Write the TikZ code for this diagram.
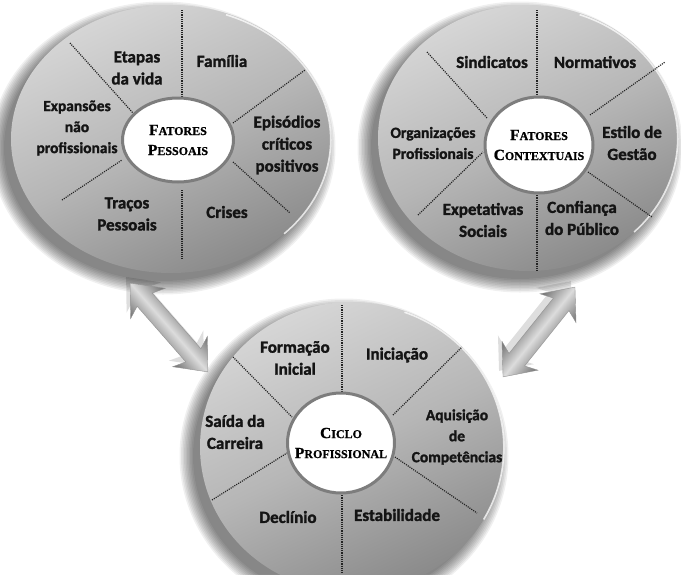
\documentclass[tikz,border=0pt]{standalone}
\usepackage{fontspec}
\setmainfont{Carlito}
\newfontfamily\cbold{Carlito Bold}[FakeBold=1.6]
\newfontfamily\capserif{Liberation Serif Bold}[FakeBold=0.8]
\usetikzlibrary{shapes.geometric}
\definecolor{disclight}{RGB}{214,214,214}
\definecolor{discmid}{RGB}{182,182,182}
\definecolor{discdark}{RGB}{138,138,138}
\definecolor{dotline}{RGB}{35,35,35}
\definecolor{ringgray}{RGB}{125,125,125}
\definecolor{arrdark}{RGB}{110,110,110}
\definecolor{arrlight}{RGB}{220,220,220}
\newcommand\fsc[2]{{\fontsize{15.5}{20}\selectfont #1}{\fontsize{12}{20}\selectfont #2}}
\tikzset{
  disc/.style={ellipse, inner sep=0pt, top color=disclight, bottom color=discdark, middle color=discmid, shading angle=25},
  discshadow/.style={ellipse, inner sep=0pt, fill=black, fill opacity=0.06, draw=none},
  rim/.style={white, line width=1.6pt, opacity=0.75},
  inner/.style={ellipse, inner sep=0pt, fill=white, draw=ringgray, line width=3pt},
  divider/.style={dotline, line width=1.2pt, dash pattern=on 1.1pt off 1.1pt},
  lbl/.style={font=\cbold\fontsize{17}{22}\selectfont, align=center, inner sep=0pt, text=black!92},
  lbls/.style={font=\cbold\fontsize{15.5}{21}\selectfont, align=center, inner sep=0pt, text=black!92},
  ctr/.style={font=\capserif\fontsize{12}{20}\selectfont, align=center, inner sep=0pt},
  arrbody/.style={top color=arrdark, bottom color=arrdark, middle color=arrlight, draw=gray!85, line width=0.4pt},
  arrshadow/.style={fill=black, fill opacity=0.13, draw=none}
}
% double arrow polygon in local frame: #1 = half length
\newcommand\dblarrowpath[1]{(#1,0) -- ({#1-27},23) -- ({#1-22},10) -- ({-#1+22},10) -- ({-#1+27},23) -- (-#1,0) -- ({-#1+27},-23) -- ({-#1+22},-10) -- ({#1-22},-10) -- ({#1-27},-23) -- cycle}
\begin{document}
\begin{tikzpicture}[x=1pt,y=-1pt]
\fill[white] (0,0) rectangle (681,574);
\useasboundingbox (0,0) rectangle (681,574);
\clip (0,0) rectangle (681,574);

% soft shadows
\foreach \k in {0,...,9}{
  \node[discshadow, minimum width={318+3*\k}, minimum height={266+3*\k}] at (163,148) {};
  \node[discshadow, minimum width={298+3*\k}, minimum height={264+3*\k}] at (520,147) {};
  \node[discshadow, minimum width={302+3*\k}, minimum height={288+3*\k}] at (344,456) {};
}

% discs
\node[disc, minimum width=320, minimum height=268] (d1) at (171,139) {};
\node[disc, minimum width=300, minimum height=266] (d2) at (528,138) {};
\node[disc, minimum width=304, minimum height=290] (d3) at (352,447) {};

% rims
\draw[rim] (d1.center) ++(-45:160pt and 134pt) arc[start angle=-45, end angle=70, x radius=159pt, y radius=133pt];
\draw[rim] (d2.center) ++(-45:150pt and 133pt) arc[start angle=-45, end angle=70, x radius=149pt, y radius=132pt];
\draw[rim] (d3.center) ++(-30:152pt and 145pt) arc[start angle=-30, end angle=70, x radius=151pt, y radius=144pt];

% dividers disc 1
\draw[divider] (182,10) -- (182,100);
\draw[divider] (182,190) -- (182,260);
\draw[divider] (70,43) -- (133,113);
\draw[divider] (233,123) -- (305,70);
\draw[divider] (62,200) -- (122,160);
\draw[divider] (233,162) -- (290,213);
% dividers disc 2
\draw[divider] (537,10) -- (537,97);
\draw[divider] (537,193) -- (537,272);
\draw[divider] (427,52) -- (487,118);
\draw[divider] (590,115) -- (665,62);
\draw[divider] (418,215) -- (483,152);
\draw[divider] (588,172) -- (652,217);
% dividers disc 3
\draw[divider] (342,305) -- (342,393);
\draw[divider] (342,493) -- (342,574);
\draw[divider] (233,357) -- (292,417);
\draw[divider] (393,415) -- (462,347);
\draw[divider] (212,500) -- (287,453);
\draw[divider] (395,457) -- (477,513);

% inner ellipses
\node[inner, minimum width=111, minimum height=84] (c1) at (178,140) {};
\node[inner, minimum width=108, minimum height=96] (c2) at (539,145) {};
\node[inner, minimum width=107, minimum height=100] (c3) at (341,443) {};
\node[ctr] (t1) at (c1.center) {\fsc{F}{ATORES}\\\fsc{P}{ESSOAIS}};
\node[ctr] (t2) at (c2.center) {\fsc{F}{ATORES}\\\fsc{C}{ONTEXTUAIS}};
\node[ctr] (t3) at (c3.center) {\fsc{C}{ICLO}\\\fsc{P}{ROFISSIONAL}};

% labels disc 1
\node[lbl] (l11) at (137,68) {Etapas\\da vida};
\node[lbl] (l12) at (222,61) {Família};
\node[lbls] (l13) at (77,128) {Expansões\\não\\profissionais};
\node[lbl] (l14) at (287,145) {Episódios\\críticos\\positivos};
\node[lbl] (l15) at (127,214) {Traços\\Pessoais};
\node[lbl] (l16) at (227,212) {Crises};
% labels disc 2
\node[lbl] (l21) at (492,62) {Sindicatos};
\node[lbl] (l22) at (595,62) {Normativos};
\node[lbls] (l23) at (433,143) {Organizações\\Profissionais};
\node[lbl] (l24) at (632,143) {Estilo de\\Gestão};
\node[lbl] (l25) at (483,220) {Expetativas\\Sociais};
\node[lbl] (l26) at (582,218) {Confiança\\do Público};
% labels disc 3
\node[lbl] (l31) at (295,358) {Formação\\Inicial};
\node[lbl] (l32) at (397,355) {Iniciação};
\node[lbl] (l33) at (235,432) {Saída da\\Carreira};
\node[lbls] (l34) at (457,437) {Aquisição\\de\\Competências};
\node[lbl] (l35) at (288,517) {Declínio};
\node[lbl] (l36) at (397,515) {Estabilidade};

% double arrows (shape drawn in a rotated canvas frame)
\coordinate (a1) at (169,327.5);
\coordinate (a2) at (539,332);
\begin{scope}[transform canvas={shift={(-4,-6)}}]
  \begin{scope}[transform canvas={shift={(a1)}, rotate=-48.8}]
    \fill[arrshadow] \dblarrowpath{59};
  \end{scope}
  \begin{scope}[transform canvas={shift={(a2)}, rotate=51.3}]
    \fill[arrshadow] \dblarrowpath{57.5};
  \end{scope}
\end{scope}
\begin{scope}[transform canvas={shift={(a1)}, rotate=-48.8}]
  \draw[arrbody] \dblarrowpath{59};
\end{scope}
\begin{scope}[transform canvas={shift={(a2)}, rotate=51.3}]
  \draw[arrbody] \dblarrowpath{57.5};
\end{scope}
\end{tikzpicture}
\end{document}
